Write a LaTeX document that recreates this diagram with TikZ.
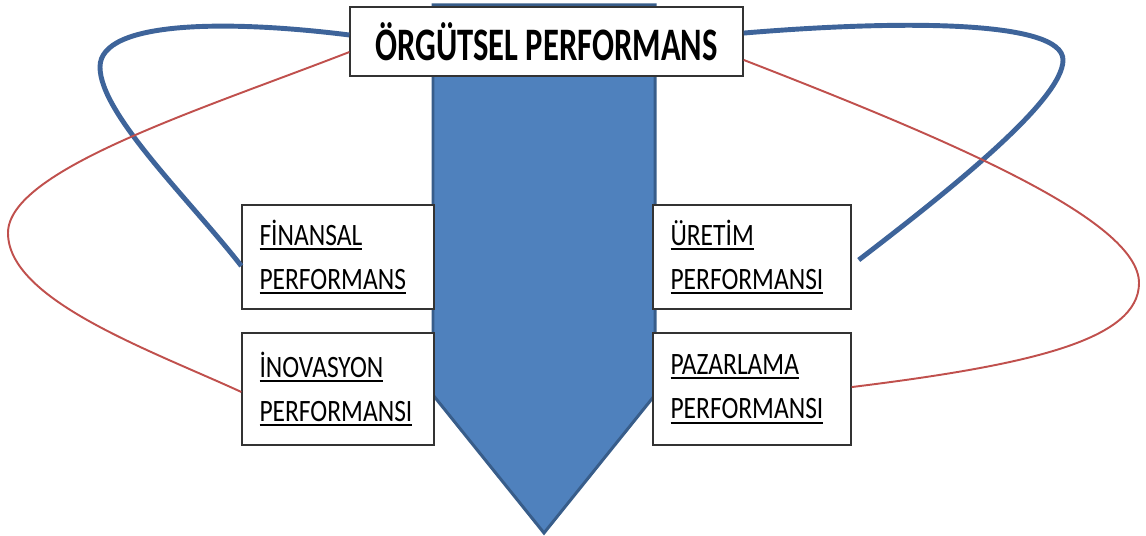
\documentclass[tikz,border=0pt]{standalone}
\usepackage{fontspec}
\setmainfont{Carlito}
\newfontfamily\boxfont[FakeStretch=0.82]{Carlito}
\newfontfamily\titlefont[FakeStretch=0.70]{Carlito}
\usetikzlibrary{positioning}

\definecolor{arrowfill}{RGB}{79,129,189}
\definecolor{arrowline}{RGB}{56,93,138}
\definecolor{linkblue}{RGB}{62,100,154}
\definecolor{linkred}{RGB}{192,80,77}

% underlined word, rule just under the baseline
\newcommand\ulword[1]{\vtop{\hbox{#1}\kern1.7pt\hrule height1.1pt}}

\tikzset{
  perfbox/.style={draw=black!80, line width=0.8pt, fill=white,
    minimum width=3.84cm, text width=3.14cm, inner xsep=0.35cm,
    align=left, font=\boxfont\fontsize{17.7}{25}\selectfont},
  widebox/.style={perfbox, minimum width=3.96cm, text width=3.26cm},
  titlebox/.style={draw=black!80, line width=0.8pt, fill=white,
    minimum width=7.86cm, minimum height=1.38cm,
    font=\titlefont\bfseries\fontsize{26.5}{30}\selectfont},
  bluelink/.style={draw=linkblue, line width=2.8pt},
  redlink/.style={draw=linkred, line width=1.1pt}
}

\begin{document}
\begin{tikzpicture}[x=0.02cm, y=-0.02cm]
    \useasboundingbox (0,0) rectangle (1146,536);

    % big downward arrow
    \draw[fill=arrowfill, draw=arrowline, line width=1.7pt, line join=miter]
        (433,5) -- (655,5) -- (655,395) -- (544,533) -- (433,395) -- cycle;

    \node[titlebox] (title) at (546.5,41.5) {ÖRGÜTSEL PERFORMANS};

    \node[perfbox, minimum height=2.08cm] (finansal) at (338,257)
        {\ulword{FİNANSAL}\\\ulword{PERFORMANS}};
    \node[perfbox, minimum height=2.24cm] (inovasyon) at (338,389)
        {\ulword{İNOVASYON}\\\ulword{PERFORMANSI}};
    \node[widebox, minimum height=2.08cm] (uretim) at (752,257)
        {\ulword{ÜRETİM}\\\ulword{PERFORMANSI}};
    \node[widebox, minimum height=2.24cm] (pazarlama) at (752,389)
        {\ulword{PAZARLAMA}\\\ulword{PERFORMANSI}};

    % blue loops
    \draw[bluelink] ([yshift=3.7pt]title.west)
        .. controls (230,20) and (100,20) .. (100,67)
        .. controls (100,114) and (190,200) .. ([yshift=-5.1pt]finansal.west);
    \draw[bluelink] ([yshift=4.8pt]title.east)
        .. controls (900,20) and (1063,20) .. (1063,60)
        .. controls (1063,100) and (950,190) .. ([xshift=4pt,yshift=-1.7pt]uretim.east);

    % red loops
    \draw[redlink] ([yshift=-6pt]title.west)
        .. controls (200,110) and (8,170) .. (8,233)
        .. controls (8,300) and (150,350) .. ([yshift=-1.7pt]inovasyon.west);
    \draw[redlink] ([yshift=-10.5pt]title.east)
        .. controls (950,140) and (1139,220) .. (1139,283)
        .. controls (1139,340) and (1030,365) .. ([yshift=1.1pt]pazarlama.east);
\end{tikzpicture}
\end{document}
